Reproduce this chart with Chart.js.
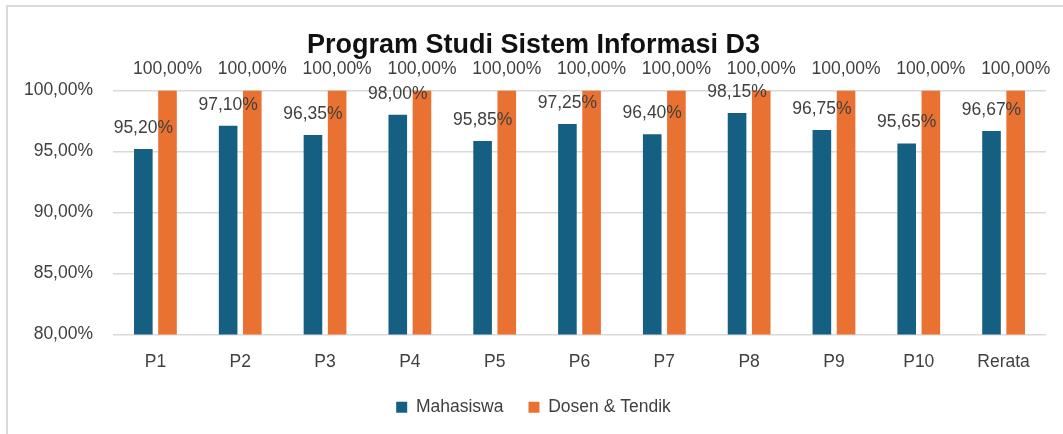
<!DOCTYPE html>
<html>
<head>
<meta charset="utf-8">
<script src="https://cdn.jsdelivr.net/npm/chart.js@4/dist/chart.umd.min.js"></script>
<style>
  html, body { margin: 0; padding: 0; background: #fff; overflow: hidden; }
  #wrap { position: relative; width: 1063px; height: 434px; overflow: hidden; }
  #frame {
    position: absolute; left: 6px; top: 5px; width: 1100px; height: 480px;
    border: 2px solid #d9d9d9; box-sizing: border-box; pointer-events: none;
  }
</style>
</head>
<body>
<div id="wrap">
  <canvas id="chart" width="1063" height="434"></canvas>
  <div id="frame"></div>
</div>
<script>
'use strict';

const categories = ['P1', 'P2', 'P3', 'P4', 'P5', 'P6', 'P7', 'P8', 'P9', 'P10', 'Rerata'];
const mahasiswa = [95.20, 97.10, 96.35, 98.00, 95.85, 97.25, 96.40, 98.15, 96.75, 95.65, 96.67];
const dosenTendik = [100, 100, 100, 100, 100, 100, 100, 100, 100, 100, 100];

const COLORS = {
  mhs: '#156082',
  dosen: '#E97132',
  grid: '#d9d9d9',
  text: '#404040',
};

const FONT = '"Liberation Sans", Arial, sans-serif';

function pct(v) {
  return v.toFixed(2).replace('.', ',') + '%';
}

// label nilai di atas batang
const valueLabels = {
  id: 'valueLabels',
  afterDatasetsDraw(chart) {
    const ctx = chart.ctx;
    ctx.save();
    ctx.font = '17.5px ' + FONT;
    ctx.fillStyle = COLORS.text;
    ctx.textAlign = 'center';
    ctx.textBaseline = 'middle';
    chart.data.datasets.forEach((ds, i) => {
      chart.getDatasetMeta(i).data.forEach((el, j) => {
        ctx.fillText(pct(ds.data[j]), el.x, el.y - 21);
      });
    });
    ctx.restore();
  },
};

new Chart(document.getElementById('chart'), {
  type: 'bar',
  data: {
    labels: categories,
    datasets: [
      {
        label: 'Mahasiswa',
        data: mahasiswa,
        backgroundColor: COLORS.mhs,
        categoryPercentage: 0.57,
        barPercentage: 0.77,
      },
      {
        label: 'Dosen & Tendik',
        data: dosenTendik,
        backgroundColor: COLORS.dosen,
        categoryPercentage: 0.57,
        barPercentage: 0.77,
      },
    ],
  },
  options: {
    responsive: false,
    animation: false,
    devicePixelRatio: 1,
    layout: { padding: { left: 21, right: 17, top: 29, bottom: 8 } },
    plugins: {
      title: {
        display: true,
        text: 'Program Studi Sistem Informasi D3',
        color: '#111',
        font: { family: FONT, size: 27, weight: 'bold' },
        padding: { top: 0, bottom: 29 },
      },
      legend: {
        position: 'bottom',
        labels: {
          color: COLORS.text,
          font: { family: FONT, size: 17.5 },
          boxWidth: 11,
          boxHeight: 11,
          padding: 25,
        },
      },
      tooltip: { enabled: false },
    },
    scales: {
      x: {
        afterFit: (scale) => { scale.height = 39; },
        grid: { display: false, drawTicks: false },
        border: { display: false },
        ticks: { color: COLORS.text, font: { family: FONT, size: 17.5 }, padding: 17 },
      },
      y: {
        min: 80,
        max: 100,
        afterFit: (scale) => { scale.width = 92; },
        grid: { color: COLORS.grid, lineWidth: 1.5, drawTicks: false },
        border: { display: false },
        ticks: {
          stepSize: 5,
          color: COLORS.text,
          font: { family: FONT, size: 17.5 },
          padding: 20,
          callback: (v) => pct(v),
        },
      },
    },
  },
  plugins: [valueLabels],
});
</script>
</body>
</html>
